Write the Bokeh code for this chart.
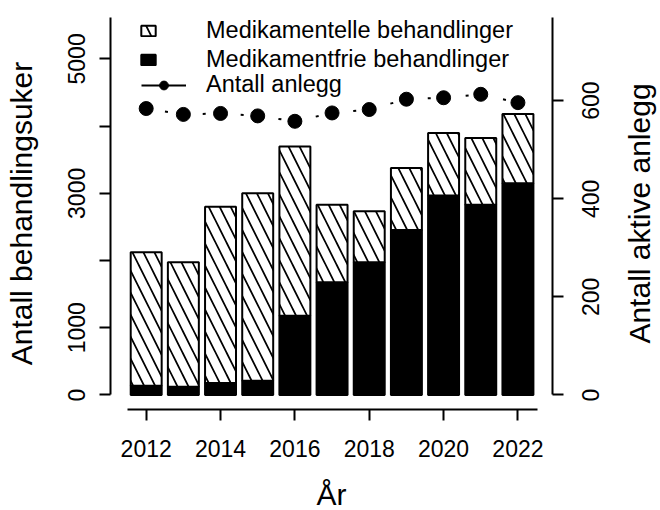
import math
from bokeh.plotting import figure
from bokeh.layouts import row
from bokeh.models import (Range1d, LinearAxis, FixedTicker, Legend, LegendItem,
                          ColumnDataSource)
from bokeh.core.properties import value
from bokeh.embed import file_html
from bokeh.resources import INLINE

# ---- data ----
years = [2012, 2013, 2014, 2015, 2016, 2017, 2018, 2019, 2020, 2021, 2022]
medikamentfrie = [138, 123, 178, 213, 1180, 1676, 1973, 2455, 2966, 2832, 3149]
medikamentelle = [1984, 1850, 2624, 2787, 2515, 1156, 759, 923, 933, 992, 1033]
antall_anlegg = [584, 572, 574, 569, 558, 575, 582, 603, 606, 613, 596]

x_ticks = [2012, 2014, 2016, 2018, 2020, 2022]
left_ticks = [0, 1000, 2000, 3000, 4000, 5000]
left_tick_labels = {0: "0", 1000: "1000", 2000: "", 3000: "3000", 4000: "", 5000: "5000"}
right_ticks = [0, 200, 400, 600]
right_tick_labels = ["0", "200", "400", "600"]

label_med = "Medikamentelle behandlinger"
label_free = "Medikamentfrie behandlinger"
label_anlegg = "Antall anlegg"
x_title = "År"
y_title_left = "Antall behandlingsuker"
y_title_right = "Antall aktive anlegg"

FONT = "Liberation Sans"

totals = [f + m for f, m in zip(medikamentfrie, medikamentelle)]
src = ColumnDataSource(dict(year=years, free=medikamentfrie, med=medikamentelle,
                            total=totals, anlegg=antall_anlegg))

right_range = Range1d(-29.6, 769.6)

P_RIGHT = 20
p = figure(frame_width=442, frame_height=392,
           x_range=Range1d(2011.04, 2022.93), y_range=Range1d(-216, 5616),
           output_backend="svg", toolbar_location=None,
           min_border_left=110, min_border_right=P_RIGHT,
           min_border_top=17, min_border_bottom=101)
p.outline_line_color = None
p.xgrid.visible = False
p.ygrid.visible = False
p.background_fill_color = "white"
p.border_fill_color = "white"

p.extra_y_ranges = {"right": right_range}

BAR_W = 0.833
r_free = p.vbar(x="year", bottom=0, top="free", width=BAR_W, source=src,
                fill_color="black", line_color="black", line_width=2)
r_med = p.vbar(x="year", bottom="free", top="total", width=BAR_W, source=src,
               fill_color="white", line_color="black", line_width=2,
               hatch_pattern="\\", hatch_color="black", hatch_scale=22,
               hatch_weight=1.7)

r_line = p.line(x="year", y="anlegg", source=src, y_range_name="right",
                line_color="black", line_width=2, line_dash="3 16")
r_line_leg = p.line(x="year", y="anlegg", source=src, y_range_name="right",
                    line_color="black", line_width=2, visible=False)
r_pts = p.scatter(x="year", y="anlegg", source=src, y_range_name="right",
                  size=14, fill_color="black", line_color="black")

# ---- axes ----
def style_axis(ax):
    ax.axis_line_width = 2
    ax.axis_line_color = "black"
    ax.major_tick_line_width = 2
    ax.major_tick_line_color = "black"
    ax.major_tick_in = 0
    ax.major_tick_out = 11
    ax.minor_tick_line_color = None
    ax.major_label_text_font = FONT
    ax.major_label_text_font_size = "23px"
    ax.major_label_text_color = "black"
    ax.axis_label_text_font = FONT
    ax.axis_label_text_font_size = "30px"
    ax.axis_label_text_font_style = "normal"
    ax.axis_label_text_color = "black"

xa = p.xaxis[0]
style_axis(xa)
xa.ticker = FixedTicker(ticks=x_ticks)
xa.bounds = (2011.5, 2022.53)
xa.major_label_standoff = 19
xa.axis_label = x_title
xa.axis_label_standoff = 18

ya = p.yaxis[0]
style_axis(ya)
ya.ticker = FixedTicker(ticks=left_ticks)
ya.major_label_overrides = left_tick_labels
ya.major_label_orientation = "vertical"
ya.bounds = (0, 5616)
ya.major_label_standoff = 14
ya.axis_label = y_title_left
ya.axis_label_standoff = 28

# right axis: line and ticks here; its labels (read bottom-to-top) are set
# in the narrow companion figure that shares the same range
yr = LinearAxis(y_range_name="right", ticker=FixedTicker(ticks=right_ticks))
style_axis(yr)
yr.bounds = (0, 769.6)
yr.major_label_overrides = {t: "" for t in right_ticks}
yr.major_label_standoff = 0
p.add_layout(yr, "right")

# ---- legends ----
common = dict(padding=0, margin=0, border_line_color=None, background_fill_alpha=0,
              label_text_font=FONT, label_text_font_size="23.5px",
              label_text_color="black", label_height=27)
leg1 = Legend(items=[LegendItem(label=label_med, renderers=[r_med]),
                     LegendItem(label=label_free, renderers=[r_free])],
              location=(29, 336), glyph_width=18, glyph_height=13,
              label_standoff=49, spacing=2, **common)
leg2 = Legend(items=[LegendItem(label=label_anlegg, renderers=[r_line_leg, r_pts])],
              location=(31, 311), glyph_width=45, glyph_height=22,
              label_standoff=20, spacing=0, **common)
p.add_layout(leg1)
p.add_layout(leg2)

# ---- companion strip to the right: right-axis tick labels and title ----
W2 = 660 - (110 + 442 + P_RIGHT)
p2 = figure(frame_width=W2, frame_height=392,
            x_range=Range1d(0, W2), y_range=right_range,
            x_axis_type=None, y_axis_type=None,
            output_backend="svg", toolbar_location=None,
            min_border_left=0, min_border_right=0,
            min_border_top=17, min_border_bottom=101)
p2.outline_line_color = None
p2.xgrid.visible = False
p2.ygrid.visible = False
p2.background_fill_color = "white"
p2.border_fill_color = "white"

lab_src = ColumnDataSource(dict(y=right_ticks, text=right_tick_labels,
                                x=[590 - (660 - W2)] * len(right_ticks)))
p2.text(x="x", y="y", text="text", source=lab_src, angle=math.pi / 2,
        text_align="center", text_baseline="middle",
        text_font=value(FONT), text_font_size="23px", text_color="black")

title_src = ColumnDataSource(dict(x=[639 - (660 - W2)],
                                  y=[(right_range.start + right_range.end) / 2],
                                  text=[y_title_right]))
p2.text(x="x", y="y", text="text", source=title_src, angle=math.pi / 2,
        text_align="center", text_baseline="middle",
        text_font=value(FONT), text_font_size="30px", text_color="black")

layout = row(p, p2, spacing=0)
open("out.html", "w").write(file_html(layout, INLINE))
